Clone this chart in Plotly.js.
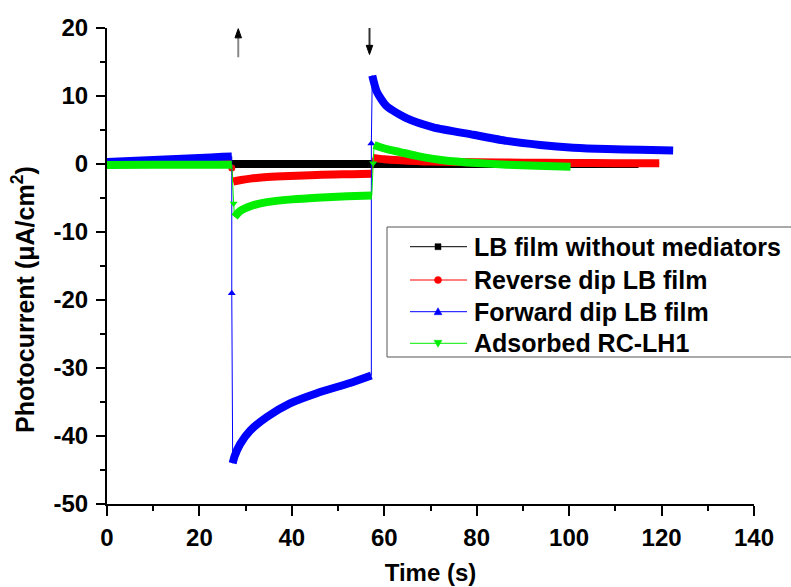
<!DOCTYPE html>
<html>
<head>
<meta charset="utf-8">
<script src="https://cdn.plot.ly/plotly-3.0.1.min.js"></script>
<style>html,body{margin:0;padding:0;background:#fff;}#chart{width:791px;height:587px;}</style>
</head>
<body>
<div id="chart"></div>
<script>
// ---- data ----
var seriesNames = ["LB film without mediators", "Reverse dip LB film", "Forward dip LB film", "Adsorbed RC-LH1"];

// LB film without mediators (black)
var blackT = [0, 20, 40, 60, 80, 100, 115];
var blackI = [0, 0, 0, 0, 0, 0, 0];

// Reverse dip LB film (red): dark, light-on transient, light-off transient
var redT1 = [0, 10, 20, 27];
var redI1 = [0, 0, 0, 0];
var redJumpOnT = [27];
var redJumpOnI = [-0.6];
var redT2 = [27.3, 29, 31, 34, 38, 44, 49, 53, 57.3];
var redI2 = [-2.6, -2.35, -2.15, -1.95, -1.8, -1.65, -1.55, -1.5, -1.45];
var redT3 = [57.5, 60, 63.4, 70, 80, 90, 100, 110, 119.5];
var redI3 = [0.9, 0.7, 0.55, 0.35, 0.25, 0.2, 0.15, 0.12, 0.12];

// Forward dip LB film (blue)
var blueT1 = [0, 5, 10, 15, 20, 25, 27];
var blueI1 = [0.3, 0.45, 0.6, 0.75, 0.9, 1.05, 1.1];
var blueJumpOnT = [27];
var blueJumpOnI = [-19];
var blueT2 = [27.2, 27.6, 28.8, 31, 34.6, 39.6, 45.4, 52.6, 57.2];
var blueI2 = [-44, -43, -41.2, -39.2, -37.2, -35.2, -33.7, -32.2, -31.1];
var blueJumpOffT = [57.2];
var blueJumpOffI = [3];
var blueT3 = [57.4, 58.4, 60.5, 64.9, 70.6, 79.3, 86.5, 93.7, 100.9, 108.2, 115.4, 122.5];
var blueI3 = [13.0, 10.6, 8.5, 6.7, 5.4, 4.3, 3.4, 2.8, 2.4, 2.2, 2.1, 2.0];

// Adsorbed RC-LH1 (green)
var greenT1 = [0, 10, 20, 27];
var greenI1 = [-0.15, -0.12, -0.1, -0.1];
var greenJumpOnT = [27.4];
var greenJumpOnI = [-5.8];
var greenT2 = [27.6, 28.8, 31, 34.6, 40, 45.4, 52, 57.3];
var greenI2 = [-7.8, -6.9, -6.2, -5.6, -5.2, -4.95, -4.75, -4.65];
var greenJumpOffT = [57.6];
var greenJumpOffI = [0.1];
var greenT3 = [57.8, 59, 61, 63.4, 67, 70.6, 74, 80, 86.5, 93, 100.3];
var greenI3 = [2.8, 2.5, 2.1, 1.75, 1.2, 0.75, 0.45, 0.15, -0.1, -0.25, -0.4];

// tick labels
var xTickVals = [0, 20, 40, 60, 80, 100, 120, 140];
var xTickText = ["0", "20", "40", "60", "80", "100", "120", "140"];
var yTickVals = [-50, -40, -30, -20, -10, 0, 10, 20];
var yTickText = ["-50", "-40", "-30", "-20", "-10", "0", "10", "20"];

// arrows marking light on / light off
var arrowT = [28.4, 56.8];
var arrowTip = [19.9, 16.1];
var arrowTail = [15.7, 20.1];

// ---- build traces ----
var colors = ["#000000", "#ff0000", "#0000ff", "#00ee00"];
var symbols = ["square", "circle", "triangle-up", "triangle-down"];
var msize = [5, 7, 7, 7];

function cat() { var o = []; for (var i = 0; i < arguments.length; i++) o = o.concat(arguments[i]); return o; }

var full = [
  {x: blackT, y: blackI},
  {x: cat(redT1, redJumpOnT, redT2, redT3), y: cat(redI1, redJumpOnI, redI2, redI3)},
  {x: cat(blueT1, blueJumpOnT, blueT2, blueJumpOffT, blueT3), y: cat(blueI1, blueJumpOnI, blueI2, blueJumpOffI, blueI3)},
  {x: cat(greenT1, greenJumpOnT, greenT2, greenJumpOffT, greenT3), y: cat(greenI1, greenJumpOnI, greenI2, greenJumpOffI, greenI3)}
];
var thick = [
  {x: blackT, y: blackI},
  {x: cat(redT1, [null], redT2, [null], redT3), y: cat(redI1, [null], redI2, [null], redI3)},
  {x: cat(blueT1, [null], blueT2, [null], blueT3), y: cat(blueI1, [null], blueI2, [null], blueI3)},
  {x: cat(greenT1, [null], greenT2, [null], greenT3), y: cat(greenI1, [null], greenI2, [null], greenI3)}
];
var jumps = [
  null,
  {x: redJumpOnT, y: redJumpOnI},
  {x: cat(blueJumpOnT, blueJumpOffT), y: cat(blueJumpOnI, blueJumpOffI)},
  {x: cat(greenJumpOnT, greenJumpOffT), y: cat(greenJumpOnI, greenJumpOffI)}
];

var traces = [];
for (var k = 0; k < 4; k++) {
  traces.push({
    x: thick[k].x, y: thick[k].y, type: "scatter", mode: "lines",
    line: {color: colors[k], width: 8, shape: "spline", smoothing: 0.6},
    connectgaps: false, showlegend: false, hoverinfo: "skip"
  });
  traces.push({
    x: full[k].x, y: full[k].y, type: "scatter", mode: "lines",
    name: seriesNames[k], line: {color: colors[k], width: 1},
    showlegend: false
  });
  if (jumps[k]) {
    traces.push({
      x: jumps[k].x, y: jumps[k].y, type: "scatter", mode: "markers",
      marker: {symbol: symbols[k], size: msize[k], color: colors[k]},
      showlegend: false
    });
  }
}

// ---- layout geometry (pixels) ----
var W = 791, H = 587, L = 107, R = 37, T = 28, B = 83;
var pw = W - L - R, ph = H - T - B;
function px(xpix) { return (xpix - L) / pw; }
function py(ypix) { return (H - B - ypix) / ph; }

var font = "Arial, 'Liberation Sans', sans-serif";
var shapes = [];
var annotations = [];

// arrows (shaft + filled head) in data coordinates
var headLen = 1.35, headHalf = 0.7;
var shaftColors = ["#888888", "#333333"];
for (var a = 0; a < arrowT.length; a++) {
  var dir = arrowTip[a] > arrowTail[a] ? 1 : -1;
  var base = arrowTip[a] - dir * headLen;
  shapes.push({type: "line", xref: "x", yref: "y", x0: arrowT[a], x1: arrowT[a], y0: arrowTail[a], y1: base,
    line: {color: shaftColors[a], width: 2}});
  shapes.push({type: "path", xref: "x", yref: "y",
    path: "M" + (arrowT[a] - headHalf) + "," + base + " L" + (arrowT[a] + headHalf) + "," + base + " L" + arrowT[a] + "," + arrowTip[a] + " Z",
    fillcolor: "#000", line: {color: "#000", width: 1}});
}

// legend (drawn by hand to match box, row spacing and key layout)
var legBoxX0 = 387, legBoxX1 = 800, legBoxY0 = 227, legBoxY1 = 357;
shapes.push({type: "rect", xref: "paper", yref: "paper", x0: px(legBoxX0), x1: px(legBoxX1), y0: py(legBoxY1), y1: py(legBoxY0),
  fillcolor: "#ffffff", line: {color: "#555555", width: 1}, layer: "above"});
var rowY = [246.7, 280, 311.7, 343.3];
var keyX0 = 410, keyX1 = 467, keyMid = 438, textX = 473;
for (var k = 0; k < 4; k++) {
  var yy = rowY[k];
  shapes.push({type: "line", xref: "paper", yref: "paper", x0: px(keyX0), x1: px(keyX1), y0: py(yy), y1: py(yy),
    line: {color: colors[k], width: 1}, layer: "above"});
  var p;
  if (k === 0) {
    p = "M" + px(keyMid - 3) + "," + py(yy - 3) + " L" + px(keyMid + 3) + "," + py(yy - 3) + " L" + px(keyMid + 3) + "," + py(yy + 3) + " L" + px(keyMid - 3) + "," + py(yy + 3) + " Z";
    shapes.push({type: "path", xref: "paper", yref: "paper", path: p, fillcolor: colors[k], line: {color: colors[k], width: 0.5}, layer: "above"});
  } else if (k === 1) {
    shapes.push({type: "circle", xref: "paper", yref: "paper", x0: px(keyMid - 3.5), x1: px(keyMid + 3.5), y0: py(yy + 3.5), y1: py(yy - 3.5),
      fillcolor: colors[k], line: {color: colors[k], width: 0.5}, layer: "above"});
  } else if (k === 2) {
    p = "M" + px(keyMid - 4) + "," + py(yy + 3) + " L" + px(keyMid + 4) + "," + py(yy + 3) + " L" + px(keyMid) + "," + py(yy - 4) + " Z";
    shapes.push({type: "path", xref: "paper", yref: "paper", path: p, fillcolor: colors[k], line: {color: colors[k], width: 0.5}, layer: "above"});
  } else {
    p = "M" + px(keyMid - 4) + "," + py(yy - 3) + " L" + px(keyMid + 4) + "," + py(yy - 3) + " L" + px(keyMid) + "," + py(yy + 4) + " Z";
    shapes.push({type: "path", xref: "paper", yref: "paper", path: p, fillcolor: colors[k], line: {color: colors[k], width: 0.5}, layer: "above"});
  }
  annotations.push({
    text: "<b>" + seriesNames[k] + "</b>", xref: "paper", yref: "paper",
    x: px(textX), y: py(yy), xanchor: "left", yanchor: "middle", showarrow: false,
    borderpad: 0, font: {family: font, size: 25, color: "#000"}
  });
}

annotations.push({
  text: "<b>Photocurrent (μA/cm<sup>2</sup>)</b>",
  xref: "paper", yref: "paper", x: px(23), y: py(300),
  xanchor: "center", yanchor: "middle", textangle: -90, showarrow: false,
  font: {family: font, size: 25, color: "#000"}
});

var layout = {
  width: W, height: H,
  margin: {l: L, r: R, t: T, b: B, pad: 0},
  paper_bgcolor: "#ffffff", plot_bgcolor: "#ffffff",
  font: {family: font, color: "#000"},
  showlegend: false,
  xaxis: {
    range: [0, 140], tickvals: xTickVals, ticktext: xTickText,
    ticks: "outside", ticklen: 10, tickwidth: 2, tickcolor: "#000",
    showline: true, linecolor: "#000", linewidth: 2, showgrid: false, zeroline: false,
    tickfont: {family: font, size: 24, color: "#000", weight: "bold"},
    ticklabelstandoff: 1,
    minor: {dtick: 10, tick0: 0, ticks: "outside", ticklen: 5, tickwidth: 2, tickcolor: "#000", showgrid: false},
    title: {text: "<b>Time (s)</b>", font: {family: font, size: 24, color: "#000"}, standoff: 14}
  },
  yaxis: {
    range: [-50, 20], tickvals: yTickVals, ticktext: yTickText,
    ticks: "outside", ticklen: 9, tickwidth: 2, tickcolor: "#000",
    showline: true, linecolor: "#000", linewidth: 2, showgrid: false, zeroline: false,
    tickfont: {family: font, size: 24, color: "#000", weight: "bold"},
    ticklabelstandoff: 3,
    minor: {dtick: 5, tick0: 0, ticks: "outside", ticklen: 5, tickwidth: 2, tickcolor: "#000", showgrid: false}
  },
  shapes: shapes,
  annotations: annotations
};

Plotly.newPlot("chart", traces, layout, {displayModeBar: false, staticPlot: true});
</script>
</body>
</html>
